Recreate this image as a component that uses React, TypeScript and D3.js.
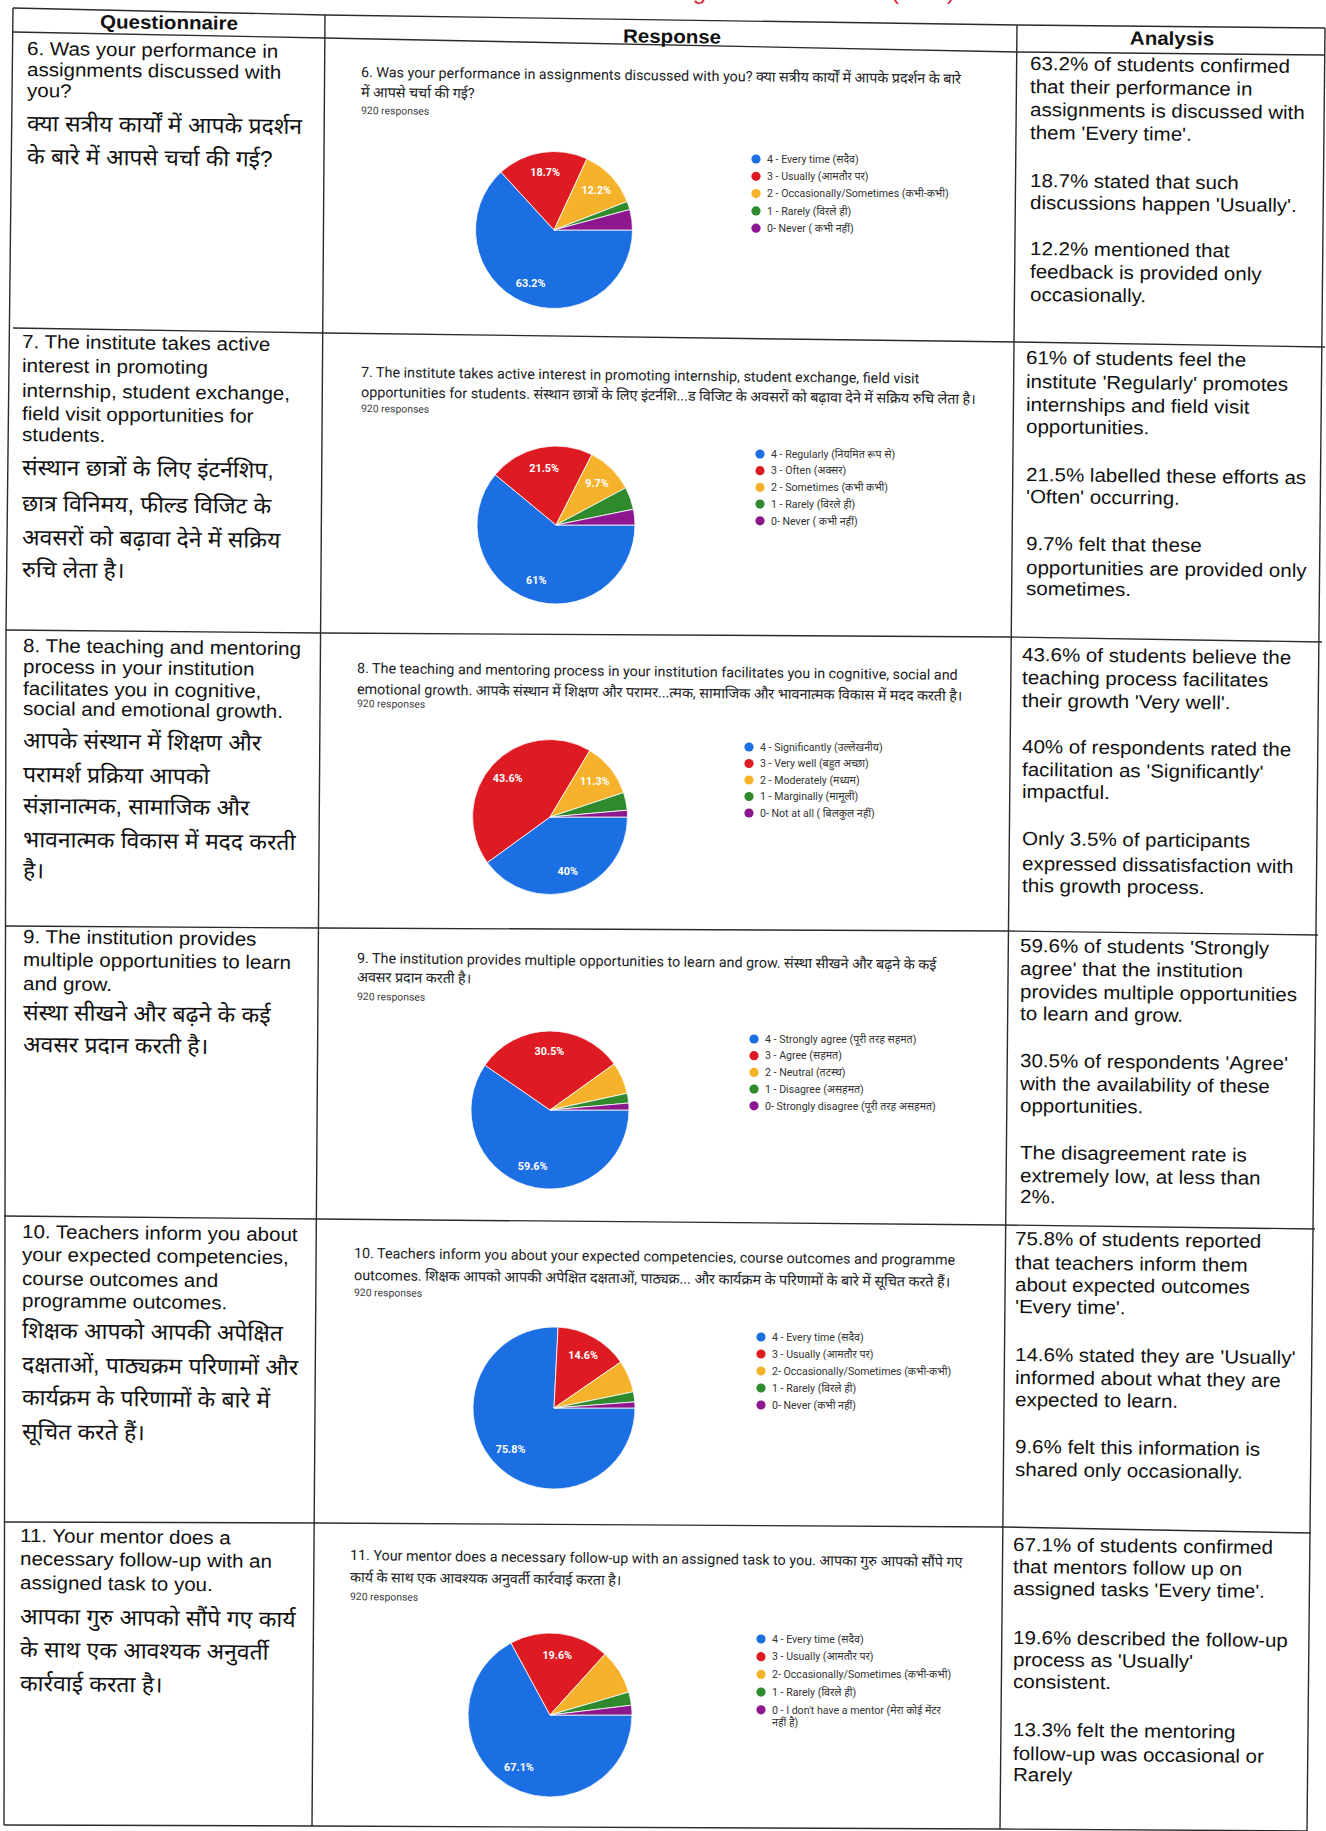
import React from 'react';
import * as d3 from 'd3';

const W = 1326;
const H = 1831;
const FONT = "'Liberation Sans', Arial, 'Noto Sans Devanagari', 'Lohit Devanagari', sans-serif";
const FONT_G = "Roboto, 'Liberation Sans', 'Noto Sans Devanagari', sans-serif";
const ROT = 0.65;

const sliceColors = ['#1c6fe3', '#de1b23', '#f6b22a', '#2e8a2c', '#8c178e'];

// ---------- data ----------
const q6Values = [63.2, 18.7, 12.2, 1.7, 4.2];
const q7Values = [61, 21.5, 9.7, 4.6, 3.2];
const q8Values = [40, 43.6, 11.3, 3.7, 1.4];
const q9Values = [59.6, 30.5, 6.5, 2.0, 1.4];
const q10Values = [75.8, 14.6, 6.4, 2.0, 1.2];
const q11Values = [67.1, 19.6, 8.8, 2.6, 1.9];

const q6Legend = ['4 - Every time (सदैव)', '3 - Usually (आमतौर पर)', '2 - Occasionally/Sometimes (कभी-कभी)', '1 - Rarely (विरले ही)', '0- Never ( कभी नहीं)'];
const q7Legend = ['4 - Regularly (नियमित रूप से)', '3 - Often (अक्सर)', '2 - Sometimes (कभी कभी)', '1 - Rarely (विरले ही)', '0- Never ( कभी नहीं)'];
const q8Legend = ['4 - Significantly (उल्लेखनीय)', '3 - Very well (बहुत अच्छा)', '2 - Moderately (मध्यम)', '1 - Marginally (मामूली)', '0- Not at all ( बिलकुल नहीं)'];
const q9Legend = ['4 - Strongly agree (पूरी तरह सहमत)', '3 - Agree (सहमत)', '2 - Neutral (तटस्थ)', '1 - Disagree (असहमत)', '0- Strongly disagree (पूरी तरह असहमत)'];
const q10Legend = ['4 - Every time (सदैव)', '3 - Usually (आमतौर पर)', '2- Occasionally/Sometimes (कभी-कभी)', '1 - Rarely (विरले ही)', '0- Never (कभी नहीं)'];
const q11Legend = ['4 - Every time (सदैव)', '3 - Usually (आमतौर पर)', '2- Occasionally/Sometimes (कभी-कभी)', '1 - Rarely (विरले ही)', "0 - I don't have a mentor (मेरा कोई मेंटर\nनहीं है)"];

const q6Title = ['6. Was your performance in assignments discussed with you?    क्या सत्रीय कार्यों में आपके प्रदर्शन के बारे', 'में आपसे चर्चा की गई?'];
const q7Title = ['7. The institute takes active interest in promoting internship, student exchange, field visit', 'opportunities for students.  संस्थान छात्रों के लिए इंटर्नशि...ड विजिट के अवसरों को बढ़ावा देने में सक्रिय रुचि लेता है।'];
const q8Title = ['8. The teaching and mentoring process in your institution facilitates you in cognitive, social and', 'emotional growth.  आपके संस्थान में शिक्षण और परामर...त्मक, सामाजिक और भावनात्मक विकास में मदद करती है।'];
const q9Title = ['9. The institution provides multiple opportunities to learn and grow.  संस्था सीखने और बढ़ने के कई', 'अवसर प्रदान करती है।'];
const q10Title = ['10. Teachers inform you about your expected competencies, course outcomes and programme', 'outcomes.  शिक्षक आपको आपकी अपेक्षित दक्षताओं, पाठ्यक्र...  और कार्यक्रम के परिणामों के बारे में सूचित करते हैं।'];
const q11Title = ['11. Your mentor does a necessary follow-up with an assigned task to you.  आपका गुरु आपको सौंपे गए', 'कार्य के साथ एक आवश्यक अनुवर्ती कार्रवाई करता है।'];

const responsesText = '920 responses';

const q6Question = ['6. Was your performance in', 'assignments discussed with', 'you?'];
const q6QuestionHi = ['क्या सत्रीय कार्यों में आपके प्रदर्शन', 'के बारे में आपसे चर्चा की गई?'];
const q7Question = ['7. The institute takes active', 'interest in promoting', 'internship, student exchange,', 'field visit opportunities for', 'students.'];
const q7QuestionHi = ['संस्थान छात्रों के लिए इंटर्नशिप,', 'छात्र विनिमय, फील्ड विजिट के', 'अवसरों को बढ़ावा देने में सक्रिय', 'रुचि लेता है।'];
const q8Question = ['8. The teaching and mentoring', 'process in your institution', 'facilitates you in cognitive,', 'social and emotional growth.'];
const q8QuestionHi = ['आपके संस्थान में शिक्षण और', 'परामर्श प्रक्रिया आपको', 'संज्ञानात्मक, सामाजिक और', 'भावनात्मक विकास में मदद करती', 'है।'];
const q9Question = ['9. The institution provides', 'multiple opportunities to learn', 'and grow.'];
const q9QuestionHi = ['संस्था सीखने और बढ़ने के कई', 'अवसर प्रदान करती है।'];
const q10Question = ['10. Teachers inform you about', 'your expected competencies,', 'course outcomes and', 'programme outcomes.'];
const q10QuestionHi = ['शिक्षक आपको आपकी अपेक्षित', 'दक्षताओं, पाठ्यक्रम परिणामों और', 'कार्यक्रम के परिणामों के बारे में', 'सूचित करते हैं।'];
const q11Question = ['11. Your mentor does a', 'necessary follow-up with an', 'assigned task to you.'];
const q11QuestionHi = ['आपका गुरु आपको सौंपे गए कार्य', 'के साथ एक आवश्यक अनुवर्ती', 'कार्रवाई करता है।'];

const q6Analysis = ['63.2% of students confirmed', 'that their performance in', 'assignments is discussed with', "them 'Every time'.", '18.7% stated that such', "discussions happen 'Usually'.", '12.2% mentioned that', 'feedback is provided only', 'occasionally.'];
const q7Analysis = ['61% of students feel the', "institute 'Regularly' promotes", 'internships and field visit', 'opportunities.', '21.5% labelled these efforts as', "'Often' occurring.", '9.7% felt that these', 'opportunities are provided only', 'sometimes.'];
const q8Analysis = ['43.6% of students believe the', 'teaching process facilitates', "their growth 'Very well'.", '40% of respondents rated the', "facilitation as 'Significantly'", 'impactful.', 'Only 3.5% of participants', 'expressed dissatisfaction with', 'this growth process.'];
const q9Analysis = ["59.6% of students 'Strongly", "agree' that the institution", 'provides multiple opportunities', 'to learn and grow.', "30.5% of respondents 'Agree'", 'with the availability of these', 'opportunities.', 'The disagreement rate is', 'extremely low, at less than', '2%.'];
const q10Analysis = ['75.8% of students reported', 'that teachers inform them', 'about expected outcomes', "'Every time'.", "14.6% stated they are 'Usually'", 'informed about what they are', 'expected to learn.', '9.6% felt this information is', 'shared only occasionally.'];
const q11Analysis = ['67.1% of students confirmed', 'that mentors follow up on', "assigned tasks 'Every time'.", '19.6% described the follow-up', "process as 'Usually'", 'consistent.', '13.3% felt the mentoring', 'follow-up was occasional or', 'Rarely'];

const headers = ['Questionnaire', 'Response', 'Analysis'];

// ---------- layout ----------
const rows = [
  { q: q6Question, qHi: q6QuestionHi, qx: 27, qy: [55, 76, 97], qHiY: [131, 164],
    title: q6Title, tx: 361, ty: [77, 97], rY: 114, values: q6Values, legend: q6Legend,
    cx: 554, cy: 230, r: 78.5, lx: 756, ly: 159, ldy: 17.3,
    analysis: q6Analysis, ax: 1030, ay: [70, 93, 116, 139, 187, 209, 255, 278, 301] },
  { q: q7Question, qHi: q7QuestionHi, qx: 22, qy: [348, 372, 397, 420, 441], qHiY: [475, 511, 545, 577],
    title: q7Title, tx: 361, ty: [377, 397], rY: 412, values: q7Values, legend: q7Legend,
    cx: 556, cy: 525, r: 79, lx: 760, ly: 454, ldy: 16.7,
    analysis: q7Analysis, ax: 1026, ay: [364, 388, 411, 433, 481, 503, 550, 574, 595] },
  { q: q8Question, qHi: q8QuestionHi, qx: 23, qy: [652, 673, 695, 715], qHiY: [748, 782, 813, 847, 878],
    title: q8Title, tx: 357, ty: [673, 694], rY: 707, values: q8Values, legend: q8Legend,
    cx: 550, cy: 817, r: 77.5, lx: 749, ly: 747, ldy: 16.5,
    analysis: q8Analysis, ax: 1022, ay: [661, 684, 707, 753, 776, 798, 845, 870, 892] },
  { q: q9Question, qHi: q9QuestionHi, qx: 23, qy: [943, 966, 990], qHiY: [1020, 1052],
    title: q9Title, tx: 357, ty: [963, 982], rY: 1000, values: q9Values, legend: q9Legend,
    cx: 550, cy: 1110, r: 79, lx: 754, ly: 1039, ldy: 16.7,
    analysis: q9Analysis, ax: 1020, ay: [952, 975, 998, 1020, 1067, 1090, 1112, 1159, 1182, 1203] },
  { q: q10Question, qHi: q10QuestionHi, qx: 22, qy: [1238, 1261, 1285, 1307], qHiY: [1338, 1372, 1405, 1439],
    title: q10Title, tx: 354, ty: [1258, 1280], rY: 1296, values: q10Values, legend: q10Legend,
    cx: 554, cy: 1408, r: 81, lx: 761, ly: 1337, ldy: 17,
    analysis: q10Analysis, ax: 1015, ay: [1245, 1269, 1291, 1313, 1361, 1384, 1406, 1453, 1476] },
  { q: q11Question, qHi: q11QuestionHi, qx: 20, qy: [1542, 1565, 1589], qHiY: [1624, 1657, 1691],
    title: q11Title, tx: 350, ty: [1560, 1582], rY: 1600, values: q11Values, legend: q11Legend,
    cx: 550, cy: 1715, r: 82, lx: 761, ly: 1639, ldy: 17.7,
    analysis: q11Analysis, ax: 1013, ay: [1551, 1573, 1595, 1644, 1666, 1688, 1736, 1760, 1781] },
];

const hLines: [number, number][][] = [
  [[13, 8], [325, 15], [1017, 25], [1325, 28]],
  [[13, 32], [325, 38], [1017, 52], [1325, 55]],
  [[13, 328], [325, 333], [1017, 342], [1325, 347]],
  [[6, 630], [322, 633], [1010, 637], [1322, 642]],
  [[5, 926], [320, 928], [1006, 931], [1318, 935]],
  [[4, 1216], [317, 1219], [1004, 1225], [1315, 1229]],
  [[4, 1522], [314, 1523], [1002, 1527], [1311, 1533]],
  [[4, 1825], [312, 1826], [1000, 1829], [1307, 1831]],
];
const vLines: [number, number][][] = [
  [[13, 8], [6, 630], [4, 1825]],
  [[325, 15], [312, 1826]],
  [[1017, 25], [1000, 1829]],
  [[1325, 28], [1307, 1831]],
];

function TL(props: any) {
  const { x, y, children, size, sx = 1, weight = 400, fill = '#111', anchor = 'start', rot = ROT, family = FONT } = props;
  return (
    <text transform={`translate(${x},${y}) rotate(${rot}) scale(${sx},1)`} fontSize={size} fontWeight={weight}
      fill={fill} textAnchor={anchor} fontFamily={family}>{children}</text>
  );
}

function PieChart({ values, cx, cy, r }: any) {
  const pie = d3.pie<number>().sort(null).value((d) => d)
    .startAngle(Math.PI / 2).endAngle(Math.PI / 2 + 2 * Math.PI);
  const arcs = pie(values);
  const arc = d3.arc<d3.PieArcDatum<number>>().innerRadius(0).outerRadius(r);
  const labelArc = d3.arc<d3.PieArcDatum<number>>().innerRadius(r * 0.74).outerRadius(r * 0.74);
  return (
    <g transform={`translate(${cx},${cy})`}>
      {arcs.map((a, i) => (
        <path key={i} d={arc(a) || ''} fill={sliceColors[i]} stroke="#fff" strokeWidth={0.8} />
      ))}
      {arcs.map((a, i) => {
        if (a.data < 9.5) return null;
        const [lx, ly] = labelArc.centroid(a);
        return (
          <text key={'l' + i} x={lx} y={ly} dy="0.35em" textAnchor="middle" fontSize={10.8} fontWeight={700}
            fill="#fff" fontFamily={FONT_G}>{`${a.data}%`}</text>
        );
      })}
    </g>
  );
}

function Legend({ items, x, y, dy }: any) {
  return (
    <g>
      {items.map((it: string, i: number) => {
        const parts = it.split('\n');
        const yy = y + i * dy;
        return (
          <g key={i}>
            <circle cx={x} cy={yy} r={4.6} fill={sliceColors[i]} />
            {parts.map((p, j) => (
              <text key={j} x={x + 11} y={yy + 3.7 + j * 12.5} fontSize={10.6} fill="#333" fontFamily={FONT_G}>{p}</text>
            ))}
          </g>
        );
      })}
    </g>
  );
}

export default function App() {
  const line = d3.line();
  return (
    <svg width={W} height={H} viewBox={`0 0 ${W} ${H}`} style={{ position: 'absolute', left: 0, top: 0, background: '#fff' }}>
      <rect width={W} height={H} fill="#fff" />
      {/* clipped red page title fragments at the very top of the scan */}
      <text x={706} y={-1} textAnchor="end" fontSize={24} fill="#d8262f" fontFamily={FONT}>Mentoring</text>
      <text x={891} y={-1} fontSize={24} fill="#d8262f" fontFamily={FONT}>(SSS)</text>

      {hLines.map((pts, i) => (
        <path key={'h' + i} d={line(pts) || ''} fill="none" stroke="#2b2b2b" strokeWidth={1.4} />
      ))}
      {vLines.map((pts, i) => (
        <path key={'v' + i} d={line(pts) || ''} fill="none" stroke="#2b2b2b" strokeWidth={1.4} />
      ))}

      <TL x={169} y={29} size={19} sx={1.08} weight={700} anchor="middle">{headers[0]}</TL>
      <TL x={672} y={43} size={19} sx={1.08} weight={700} anchor="middle">{headers[1]}</TL>
      <TL x={1172} y={45} size={19} sx={1.08} weight={700} anchor="middle">{headers[2]}</TL>

      {rows.map((row, ri) => (
        <g key={ri}>
          {row.q.map((t, i) => (
            <TL key={'q' + i} x={row.qx} y={row.qy[i]} size={19} sx={1.08}>{t}</TL>
          ))}
          {row.qHi.map((t, i) => (
            <TL key={'qh' + i} x={row.qx} y={row.qHiY[i]} size={22.5} sx={1.02}>{t}</TL>
          ))}
          {row.title.map((t, i) => (
            <TL key={'t' + i} x={row.tx} y={row.ty[i]} size={14.3} fill="#202124" family={FONT_G}>{t}</TL>
          ))}
          <TL x={row.tx} y={row.rY} size={10.4} fill="#3c4043" family={FONT_G}>{responsesText}</TL>
          <PieChart values={row.values} cx={row.cx} cy={row.cy} r={row.r} />
          <Legend items={row.legend} x={row.lx} y={row.ly} dy={row.ldy} />
          {row.analysis.map((t, i) => (
            <TL key={'a' + i} x={row.ax} y={row.ay[i]} size={19} sx={1.08}>{t}</TL>
          ))}
        </g>
      ))}
    </svg>
  );
}
